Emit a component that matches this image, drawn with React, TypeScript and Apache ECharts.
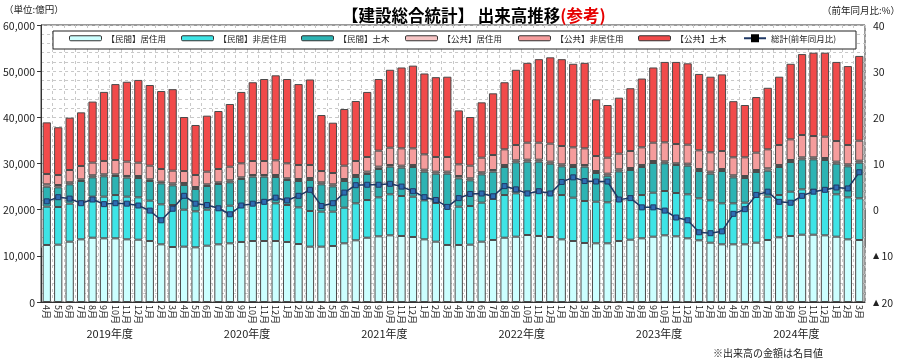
import React, { useEffect, useRef } from 'react';
import * as echarts from 'echarts';

const monthLabels = ['4月', '5月', '6月', '7月', '8月', '9月', '10月', '11月', '12月', '1月', '2月', '3月'];
const fiscalYears = ['2019年度', '2020年度', '2021年度', '2022年度', '2023年度', '2024年度'];

const seriesNames = ['【民間】居住用', '【民間】非居住用', '【民間】土木', '【公共】居住用', '【公共】非居住用', '【公共】土木'];
const lineName = '総計(前年同月比)';

// 億円
const privResidential = [
  12350, 12420, 13070, 13570, 13930, 13790, 13790, 13570, 13500, 13210, 12490, 11910,
  11990, 11840, 12200, 12490, 12710, 13000, 13210, 13210, 13210, 13000, 12560, 11990,
  11990, 12130, 12710, 13360, 13930, 14220, 14440, 14300, 14080, 13570, 13070, 12350,
  12350, 12420, 13070, 13430, 13930, 14150, 14510, 14300, 14080, 13570, 13210, 12780,
  12710, 12710, 13210, 13500, 13790, 14150, 14440, 14220, 13790, 13360, 12850, 12490,
  12490, 12490, 12850, 13430, 14010, 14300, 14580, 14580, 14440, 14150, 13570, 13430,
];
const privNonResidential = [
  8300, 8160, 8230, 8160, 8890, 9030, 9380, 9250, 9170, 8740, 8660, 9100,
  8010, 7800, 7800, 7800, 8150, 8010, 8160, 8380, 8160, 8010, 7940, 7720,
  7580, 7440, 7720, 8010, 8160, 8450, 8880, 8660, 8730, 8450, 8370, 8080,
  8300, 8370, 8450, 8880, 9240, 9390, 9390, 9600, 9460, 9600, 9390, 9100,
  9020, 8880, 9250, 9310, 9380, 9530, 9600, 9390, 9530, 9100, 9170, 8880,
  8880, 9030, 9960, 9380, 9160, 9600, 9820, 9680, 9680, 9170, 9100, 9030,
];
const privCivil = [
  4330, 4260, 4190, 4480, 4190, 4410, 4120, 4120, 4190, 4260, 4550, 4260,
  5350, 4840, 5130, 5270, 5060, 5630, 5780, 5560, 5710, 5420, 5710, 6720,
  5920, 5480, 5780, 5710, 5640, 6140, 5990, 6140, 6430, 6210, 6360, 7370,
  6140, 5560, 6130, 5920, 6070, 6710, 6500, 6500, 6420, 6220, 6640, 7430,
  6210, 5770, 5840, 5780, 6070, 6430, 6000, 6070, 6210, 5910, 5780, 7000,
  5630, 5340, 5350, 5640, 6070, 6420, 6500, 6640, 6640, 6640, 6720, 7720,
];
const pubResidential = [
  510, 500, 430, 360, 440, 430, 360, 360, 430, 360, 360, 430,
  430, 430, 360, 360, 430, 360, 360, 360, 430, 360, 430, 430,
  430, 440, 430, 430, 500, 500, 370, 430, 440, 430, 430, 430,
  500, 440, 440, 360, 440, 440, 430, 430, 440, 430, 440, 370,
  430, 440, 440, 430, 440, 430, 430, 360, 430, 440, 430, 440,
  440, 430, 430, 500, 440, 440, 430, 430, 430, 440, 430, 430,
];
const pubNonResidential = [
  2240, 2170, 2670, 2890, 2740, 2890, 3110, 3110, 2890, 2960, 2750, 2750,
  2590, 2600, 2740, 2890, 2960, 3040, 3030, 3030, 3180, 3250, 3040, 2820,
  2450, 2450, 2890, 3030, 3180, 3470, 3750, 3750, 3600, 3320, 3180, 3180,
  2530, 2740, 3170, 3250, 3390, 3320, 3680, 3680, 3900, 3970, 3820, 3600,
  3250, 3460, 3390, 3690, 3820, 3970, 4110, 4180, 4120, 4040, 4190, 3900,
  3900, 4050, 3760, 4120, 4330, 4470, 4840, 4620, 4620, 4470, 4190, 4330,
];
const pubCivil = [
  11180, 10340, 11340, 11620, 13220, 14960, 16440, 17300, 17920, 17470, 16890, 17650,
  11700, 10830, 12130, 12560, 13580, 15460, 17060, 17760, 18410, 18260, 17520, 18520,
  12130, 10900, 12270, 13000, 14090, 15520, 16870, 17520, 17920, 17520, 17290, 17390,
  11680, 10540, 11990, 13360, 14530, 16290, 17290, 18090, 18700, 18810, 18100, 18520,
  12280, 11410, 12130, 13590, 14900, 16290, 17420, 17780, 17620, 16550, 16380, 16590,
  12160, 11330, 12050, 13330, 14790, 16370, 17530, 18050, 18190, 17130, 17090, 18360,
];
// 前年同月比 (%)
const yoyTotal = [
  1.8, 2.7, 2.4, 1.4, 2.2, 1.2, 1.4, 1.3, 0.9, -0.2, -2.3, 0.2,
  3.0, 1.3, 1.0, 0.3, -1.0, 0.9, 1.3, 1.7, 2.6, 2.0, 3.0, 4.3,
  0.8, 1.4, 3.7, 5.3, 5.4, 5.4, 5.6, 5.0, 4.0, 2.7, 2.1, 0.6,
  2.5, 3.4, 3.5, 2.9, 5.1, 4.4, 3.5, 4.0, 3.5, 6.0, 7.0, 6.2,
  6.1, 6.1, 2.2, 2.5, 0.5, 0.5, -0.2, -1.7, -2.3, -4.9, -5.1, -4.7,
  -0.9, 0.1, 3.2, 3.9, 1.7, 1.5, 3.0, 3.9, 4.3, 4.8, 4.6, 8.1,
];

const barColors = ['#CCFFFF', '#3EE4E6', '#2DB3B3', '#F6C4C4', '#F59C9C', '#F14A4A'];
const barData = [privResidential, privNonResidential, privCivil, pubResidential, pubNonResidential, pubCivil];

const categories: string[] = [];
fiscalYears.forEach((fy) => monthLabels.forEach((m) => categories.push(fy + '|' + m)));

const FONT = '"Noto Sans CJK JP", "Noto Sans", sans-serif';

export default function App() {
  const ref = useRef<HTMLDivElement>(null);
  useEffect(() => {
    const chart = echarts.init(ref.current!, null, { renderer: 'svg' });
    const legendLefts = [69, 181, 301, 405, 518, 638, 743];
    const allNames = [...seriesNames, lineName];
    const legends = allNames.map((n, i) => ({
      data: [n],
      left: legendLefts[i],
      top: 34,
      itemWidth: i === 6 ? 22 : 32,
      itemHeight: i === 6 ? 10 : 5,
      selectedMode: false,
      z: 6,
      padding: 0,
      textStyle: { fontSize: 8.5, color: '#222', fontFamily: FONT },
      itemStyle: i === 6 ? undefined : { borderColor: '#333', borderWidth: 1 },
    }));
    chart.setOption({
      animation: false,
      textStyle: { fontFamily: FONT },
      title: {
        text: '{a|【建設総合統計】 出来高推移}{b|(参考)}',
        left: 337,
        top: 2,
        textStyle: {
          rich: {
            a: { fontSize: 16.5, fontWeight: 'bold', color: '#000', fontFamily: FONT },
            b: { fontSize: 16.5, fontWeight: 'bold', color: '#E60000', fontFamily: FONT },
          },
        },
      },
      legend: legends,
      grid: {
        left: 40,
        right: 37,
        top: 25,
        height: 277,
        show: true,
        borderColor: '#333',
        borderWidth: 1,
      },
      xAxis: [
        {
          type: 'category',
          data: categories,
          boundaryGap: true,
          axisLine: { show: true, lineStyle: { color: '#333' } },
          axisTick: { show: false },
          splitLine: { show: true, interval: 0, lineStyle: { color: '#C8C8C8', type: [3, 3], width: 1 } },
          axisLabel: {
            interval: 0,
            rotate: -90,
            fontSize: 9,
            margin: 3,
            color: '#222',
            formatter: (v: string) => v.split('|')[1],
          },
        },
        {
          type: 'category',
          data: fiscalYears,
          position: 'bottom',
          gridIndex: 0,
          boundaryGap: true,
          axisLine: { show: false },
          axisTick: { show: true, length: 38, interval: 0, lineStyle: { color: '#777' } },
          axisLabel: { margin: 25, fontSize: 11, color: '#222' },
          splitLine: { show: false },
        },
      ],
      yAxis: [
        {
          type: 'value',
          min: 0,
          max: 60000,
          interval: 10000,
          axisLine: { show: true, lineStyle: { color: '#333' } },
          axisTick: { show: true, length: 4, lineStyle: { color: '#333' } },
          axisLabel: {
            fontSize: 10.5,
            color: '#222',
            margin: 6,
            formatter: (v: number) => v.toLocaleString('en-US'),
          },
          splitLine: { show: true, lineStyle: { color: '#C8C8C8', type: [3, 3] } },
          minorTick: { show: false, splitNumber: 5 },
          minorSplitLine: { show: true, lineStyle: { color: '#C8C8C8', type: [3, 3] } },
        },
        {
          type: 'value',
          min: -20,
          max: 40,
          interval: 10,
          position: 'right',
          axisLine: { show: false },
          axisTick: { show: false },
          splitLine: { show: false },
          axisLabel: {
            fontSize: 10.5,
            color: '#222',
            margin: 8,
            formatter: (v: number) => (v < 0 ? '{t|▲} ' + -v : String(v)),
            rich: {
              t: { fontSize: 8, color: '#222', fontFamily: 'DejaVu Sans' },
            },
          },
        },
      ],
      graphic: [
        {
          type: 'rect',
          z: 5,
          shape: { x: 53, y: 31, width: 803, height: 18 },
          style: { fill: '#fff', stroke: '#222', lineWidth: 1 },
        },
        {
          type: 'text',
          left: 4,
          top: 4,
          style: { text: '（単位:億円）', fontSize: 9.5, fill: '#222', fontFamily: FONT },
        },
        {
          type: 'text',
          left: 822,
          top: 5,
          style: { text: '（前年同月比:%）', fontSize: 9.5, fill: '#222', fontFamily: FONT },
        },
        {
          type: 'text',
          left: 713,
          top: 347,
          style: { text: '※出来高の金額は名目値', fontSize: 10, fill: '#222', fontFamily: FONT },
        },
      ],
      series: [
        ...barData.map((d, i) => ({
          name: seriesNames[i],
          type: 'bar',
          stack: 'total',
          data: d,
          barWidth: '72%',
          itemStyle: { color: barColors[i], borderColor: '#4A4A4A', borderWidth: 1 },
        })),
        {
          name: lineName,
          type: 'line',
          yAxisIndex: 1,
          data: yoyTotal,
          symbol: 'rect',
          symbolSize: 5,
          z: 5,
          lineStyle: { color: '#1F3864', width: 1.5 },
          itemStyle: { color: '#2E6DB4', borderColor: '#1F3864', borderWidth: 1 },
        },
      ],
    });
    return () => chart.dispose();
  }, []);
  return <div ref={ref} style={{ position: 'fixed', left: 0, top: 0, width: 902, height: 364 }} />;
}
